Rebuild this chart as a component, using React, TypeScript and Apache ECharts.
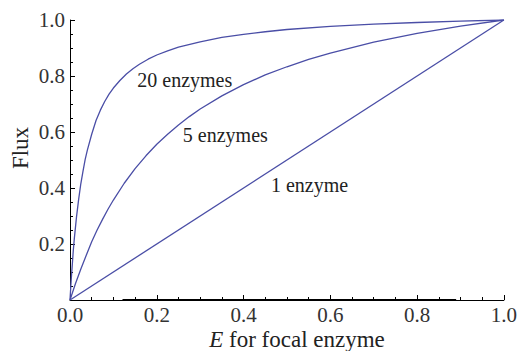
import React, { useEffect, useRef } from "react";
import * as echarts from "echarts";

// E for focal enzyme (x) and flux (y)
const e20 = [0, 0.0025, 0.005, 0.0075, 0.01, 0.015, 0.02, 0.025, 0.03, 0.035, 0.04, 0.05, 0.06, 0.07, 0.08, 0.09, 0.1, 0.115, 0.13, 0.145, 0.16, 0.18, 0.2, 0.225, 0.25, 0.3, 0.35, 0.4, 0.45, 0.5, 0.6, 0.7, 0.8, 0.9, 1];
const flux20 = [0, 0.065, 0.12, 0.175, 0.22, 0.297, 0.36, 0.416, 0.46, 0.502, 0.535, 0.592, 0.641, 0.678, 0.709, 0.735, 0.757, 0.784, 0.807, 0.826, 0.842, 0.86, 0.875, 0.89, 0.903, 0.922, 0.938, 0.949, 0.958, 0.966, 0.977, 0.985, 0.991, 0.996, 1];

const e5 = [0, 0.0125, 0.025, 0.0375, 0.05, 0.0625, 0.075, 0.0875, 0.1, 0.125, 0.15, 0.175, 0.2, 0.225, 0.25, 0.275, 0.3, 0.35, 0.4, 0.45, 0.5, 0.55, 0.6, 0.7, 0.8, 0.9, 1];
const flux5 = [0, 0.058, 0.111, 0.16, 0.208, 0.25, 0.288, 0.324, 0.357, 0.417, 0.469, 0.515, 0.556, 0.592, 0.625, 0.655, 0.682, 0.729, 0.769, 0.804, 0.833, 0.859, 0.882, 0.921, 0.952, 0.978, 1];

const e1 = [0, 1];
const flux1 = [0, 1];

const seriesNames = ["20 enzymes", "5 enzymes", "1 enzyme"];
// label anchor positions in data space [E, Flux]
const labelPos: [number, number][] = [
  [0.2645, 0.786],
  [0.358, 0.589],
  [0.552, 0.411],
];

const xTicks = [0, 0.2, 0.4, 0.6, 0.8, 1.0];

const FONT = "'Liberation Serif', 'Times New Roman', serif";
const LINE = "#4a4ea6";

const zip = (xs: number[], ys: number[]) => xs.map((x, i) => [x, ys[i]]);

export default function App() {
  const ref = useRef<HTMLDivElement>(null);
  useEffect(() => {
    if (!ref.current) return;
    document.body.style.margin = "0";
    const chart = echarts.init(ref.current, undefined, { renderer: "svg" });
    const datasets = [zip(e20, flux20), zip(e5, flux5), zip(e1, flux1)];
    chart.setOption({
      animation: false,
      backgroundColor: "#ffffff",
      grid: { left: 70, right: 15, top: 20, bottom: 51, containLabel: false },
      xAxis: {
        type: "value",
        min: xTicks[0],
        max: xTicks[xTicks.length - 1],
        interval: 0.2,
        axisLine: { show: true, lineStyle: { color: "#000", width: 1 } },
        axisTick: { show: true, inside: true, length: 5, lineStyle: { color: "#000" } },
        minorTick: { show: true, splitNumber: 4, length: 3, lineStyle: { color: "#000" } },
        splitLine: { show: false },
        axisLabel: {
          color: "#333",
          fontFamily: FONT,
          fontSize: 21,
          margin: 4,
          formatter: (v: number) => v.toFixed(1),
        },
      },
      yAxis: {
        type: "value",
        min: 0,
        max: 1,
        interval: 0.2,
        axisLine: { show: true, lineStyle: { color: "#000", width: 1 } },
        axisTick: { show: true, inside: true, length: 5, lineStyle: { color: "#000" } },
        minorTick: { show: true, splitNumber: 4, length: 3, lineStyle: { color: "#000" } },
        splitLine: { show: false },
        axisLabel: {
          color: "#333",
          fontFamily: FONT,
          fontSize: 21,
          margin: 5,
          formatter: (v: number) => (v === 0 ? "" : v.toFixed(1)),
        },
      },
      series: [
        ...datasets.map((d, i) => ({
          type: "line",
          name: seriesNames[i],
          data: d,
          showSymbol: false,
          symbol: "none",
          smooth: false,
          lineStyle: { color: LINE, width: 1.3 },
          z: 3,
          markPoint: {
            symbol: "circle",
            symbolSize: 0,
            data: [{ coord: labelPos[i] }],
            label: {
              show: true,
              formatter: seriesNames[i],
              position: "inside",
              color: "#222",
              fontFamily: FONT,
              fontSize: 20,
            },
          },
        })),
        {
          type: "line",
          data: [],
          markLine: {
            symbol: "none",
            silent: true,
            label: { show: false },
            lineStyle: { color: "#000", width: 2, type: "solid" },
            data: [[{ coord: [0.121, 0] }, { coord: [0.89, 0] }]],
          },
        },
      ],
      graphic: [
        {
          type: "text",
          x: 20,
          y: 148,
          rotation: Math.PI / 2,
          style: {
            text: "Flux",
            fill: "#222",
            font: `23px ${FONT}`,
            align: "center",
            verticalAlign: "middle",
          },
        },
        {
          type: "text",
          x: 297,
          y: 339,
          style: {
            text: "{i|E} for focal enzyme",
            fill: "#222",
            font: `23px ${FONT}`,
            align: "center",
            verticalAlign: "middle",
            rich: {
              i: { fontStyle: "italic", fontFamily: FONT, fontSize: 23, fill: "#222" },
            },
          },
        },
      ],
    });
    return () => chart.dispose();
  }, []);
  return <div ref={ref} style={{ width: 520, height: 351 }} />;
}
